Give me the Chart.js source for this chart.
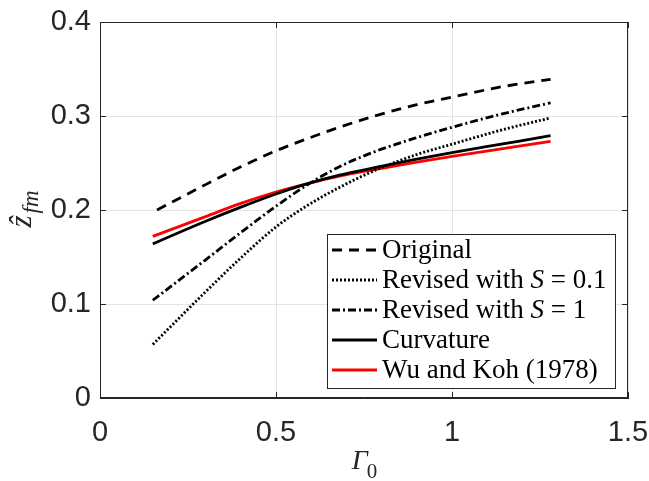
<!DOCTYPE html>
<html>
<head>
<meta charset="utf-8">
<script src="https://cdn.jsdelivr.net/npm/chart.js@4.4.0/dist/chart.umd.min.js"></script>
<style>
  html, body { margin: 0; padding: 0; background: #fff; }
  #wrap { width: 649px; height: 481px; }
</style>
</head>
<body>
<div id="wrap"><canvas id="zfmChart" width="649" height="481"></canvas></div>
<script>
// Gamma_0 values
const gammaX = [0.15, 0.3, 0.4, 0.5, 0.59, 0.68, 0.78, 0.9, 1.0, 1.14, 1.28];
const gammaXOriginal = [0.162, 0.3, 0.4, 0.5, 0.59, 0.68, 0.78, 0.9, 1.0, 1.14, 1.28];

// z_fm values
const original   = [0.200, 0.227, 0.246, 0.263, 0.276, 0.288, 0.300, 0.312, 0.320, 0.331, 0.339];
const revisedS01 = [0.057, 0.113, 0.149, 0.182, 0.205, 0.224, 0.242, 0.259, 0.270, 0.285, 0.298];
const revisedS1  = [0.104, 0.147, 0.176, 0.204, 0.227, 0.246, 0.262, 0.277, 0.288, 0.302, 0.314];
const curvature  = [0.164, 0.188, 0.203, 0.217, 0.228, 0.237, 0.245, 0.254, 0.261, 0.270, 0.279];
const wuKoh      = [0.172, 0.193, 0.207, 0.219, 0.228, 0.236, 0.243, 0.251, 0.257, 0.265, 0.273];

const seriesLabels = ['Original', 'Revised with S = 0.1', 'Revised with S = 1', 'Curvature', 'Wu and Koh (1978)'];

const xTicks = [0, 0.5, 1, 1.5];
const yTicks = [0, 0.1, 0.2, 0.3, 0.4];

const AXIS = '#262626';
const toPts = (xs, ys) => xs.map((x, i) => ({ x: x, y: ys[i] }));

const makeSet = (label, xs, ys, color, dash, width) => ({
    label: label,
    data: toPts(xs, ys),
    borderColor: color,
    backgroundColor: color,
    borderDash: dash,
    borderWidth: width,
    showLine: true,
    pointRadius: 0,
    cubicInterpolationMode: 'monotone',
    fill: false,
});

// box around plot + inward ticks
const framePlugin = {
    id: 'frame',
    afterDatasetsDraw(chart) {
        const { ctx, chartArea: a, scales } = chart;
        ctx.save();
        ctx.strokeStyle = AXIS;
        ctx.lineWidth = 1;
        ctx.strokeRect(a.left + 0.5, a.top + 0.5, a.right - a.left - 1, a.bottom - a.top - 1);
        ctx.beginPath();
        xTicks.forEach(v => {
            const px = Math.round(scales.x.getPixelForValue(v)) + 0.5;
            ctx.moveTo(px, a.bottom); ctx.lineTo(px, a.bottom - 6);
            ctx.moveTo(px, a.top); ctx.lineTo(px, a.top + 6);
        });
        yTicks.forEach(v => {
            const py = Math.round(scales.y.getPixelForValue(v)) + 0.5;
            ctx.moveTo(a.left, py); ctx.lineTo(a.left + 6, py);
            ctx.moveTo(a.right, py); ctx.lineTo(a.right - 6, py);
        });
        ctx.stroke();
        ctx.restore();
    }
};

// axis titles with subscripts
const titlePlugin = {
    id: 'titles',
    afterDraw(chart) {
        const { ctx, chartArea: a } = chart;
        ctx.save();
        ctx.fillStyle = AXIS;
        ctx.textBaseline = 'alphabetic';
        // x title: Gamma_0
        const cx = (a.left + a.right) / 2;
        ctx.font = 'italic 28px "Liberation Serif"';
        const gw = ctx.measureText('Γ').width;
        ctx.font = '21px "Liberation Serif"';
        const sw = ctx.measureText('0').width;
        const x0 = cx - (gw + sw) / 2 + 1;
        ctx.font = 'italic 28px "Liberation Serif"';
        ctx.fillText('Γ', x0, 469);
        ctx.font = '21px "Liberation Serif"';
        ctx.fillText('0', x0 + gw - 1, 478);

        // y title: z-hat_fm
        ctx.translate(31, (a.top + a.bottom) / 2);
        ctx.rotate(-Math.PI / 2);
        ctx.font = 'italic 31px "Liberation Serif"';
        const zw = ctx.measureText('ẑ').width;
        ctx.font = 'italic 23px "Liberation Serif"';
        const fw = ctx.measureText('fm').width;
        const y0 = -(zw + fw) / 2;
        ctx.font = 'italic 31px "Liberation Serif"';
        ctx.fillText('ẑ', y0, 0);
        ctx.font = 'italic 23px "Liberation Serif"';
        ctx.fillText('fm', y0 + zw + 2, 7);
        ctx.restore();
    }
};

// legend box inside the plot
const legendPlugin = {
    id: 'boxLegend',
    afterDraw(chart) {
        const { ctx } = chart;
        const box = { x: 327, y: 234, w: 288, h: 154 };
        ctx.save();
        ctx.fillStyle = '#fff';
        ctx.fillRect(box.x, box.y, box.w, box.h);
        ctx.strokeStyle = AXIS;
        ctx.lineWidth = 1;
        ctx.strokeRect(box.x + 0.5, box.y + 0.5, box.w, box.h);
        chart.data.datasets.forEach((ds, i) => {
            const cy = box.y + 16 + i * 30;
            ctx.beginPath();
            ctx.strokeStyle = ds.borderColor;
            ctx.lineWidth = ds.borderWidth;
            ctx.setLineDash(ds.borderDash);
            ctx.moveTo(box.x + 5, cy);
            ctx.lineTo(box.x + 50, cy);
            ctx.stroke();
            ctx.setLineDash([]);
            ctx.fillStyle = '#000';
            ctx.textBaseline = 'middle';
            let tx = box.x + 55;
            ds.label.split(/(\bS\b)/).forEach(part => {
                ctx.font = (part === 'S' ? 'italic ' : '') + '27px "Liberation Serif"';
                ctx.fillText(part, tx, cy + 1);
                tx += ctx.measureText(part).width;
            });
        });
        ctx.restore();
    }
};

const ctx = document.getElementById('zfmChart').getContext('2d');
const chart = new Chart(ctx, {
    type: 'scatter',
    data: {
        datasets: [
            makeSet(seriesLabels[0], gammaXOriginal, original, '#000', [10, 7], 2.8),
            makeSet(seriesLabels[1], gammaX, revisedS01, '#000', [2, 2], 2.8),
            makeSet(seriesLabels[2], gammaX, revisedS1, '#000', [8, 3, 2, 3], 2.8),
            makeSet(seriesLabels[3], gammaX, curvature, '#000', [], 2.8),
            makeSet(seriesLabels[4], gammaX, wuKoh, '#ff0000', [], 2.8),
        ],
    },
    options: {
        responsive: false,
        animation: false,
        layout: { padding: { top: 22, right: 21, left: 0, bottom: 0 } },
        plugins: { legend: { display: false }, tooltip: { enabled: false } },
        scales: {
            x: {
                type: 'linear',
                min: 0, max: 1.5,
                afterBuildTicks: s => { s.ticks = xTicks.map(v => ({ value: v })); },
                afterFit: s => { s.height = 83; s.paddingLeft = 0; s.paddingRight = 0; },
                ticks: { color: AXIS, padding: 18, maxRotation: 0, callback: v => String(v),
                         font: { family: 'Liberation Sans', size: 29 } },
                grid: { color: '#e3e3e3', drawTicks: false },
                border: { display: true, color: AXIS },
            },
            y: {
                type: 'linear',
                min: 0, max: 0.4,
                afterBuildTicks: s => { s.ticks = yTicks.map(v => ({ value: v })); },
                afterFit: s => { s.width = 100; s.paddingTop = 0; s.paddingBottom = 0; },
                ticks: { color: AXIS, padding: 9, callback: v => String(v),
                         font: { family: 'Liberation Sans', size: 29 } },
                grid: { color: '#e3e3e3', drawTicks: false },
                border: { display: true, color: AXIS },
            },
        },
    },
    plugins: [framePlugin, titlePlugin, legendPlugin],
});
</script>
</body>
</html>
